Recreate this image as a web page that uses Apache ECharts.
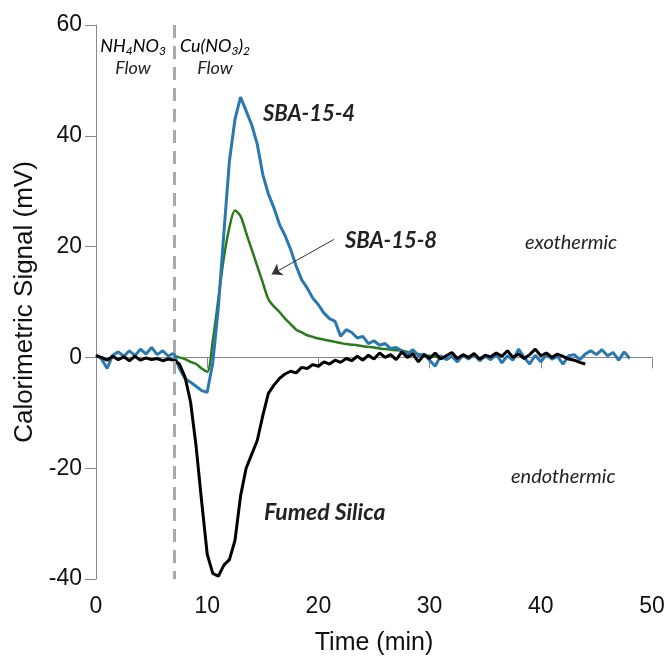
<!DOCTYPE html>
<html>
<head>
<meta charset="utf-8">
<script src="https://cdn.jsdelivr.net/npm/echarts@6/dist/echarts.min.js"></script>
<style>
  html, body { margin: 0; padding: 0; background: #fff; }
  #chart { width: 670px; height: 664px; }
</style>
</head>
<body>
<div id="chart"></div>
<script>
// time axis (min), sampled every half minute
const minutes = [
  0, 0.5, 1, 1.5, 2, 2.5, 3, 3.5, 4, 4.5, 5, 5.5, 6, 6.5, 7, 7.5, 8, 8.5, 9, 9.5,
  10, 10.5, 11, 11.5, 12, 12.5, 13, 13.5, 14, 14.5, 15, 15.5, 16, 16.5, 17, 17.5, 18, 18.5, 19, 19.5,
  20, 20.5, 21, 21.5, 22, 22.5, 23, 23.5, 24, 24.5, 25, 25.5, 26, 26.5, 27, 27.5, 28, 28.5, 29, 29.5,
  30, 30.5, 31, 31.5, 32, 32.5, 33, 33.5, 34, 34.5, 35, 35.5, 36, 36.5, 37, 37.5, 38, 38.5, 39, 39.5,
  40, 40.5, 41, 41.5, 42, 42.5, 43, 43.5, 44, 44.5, 45, 45.5, 46, 46.5, 47, 47.5, 48
];

// SBA-15-4 (mV)
const sba4 = [
  0.5, -0.3, -2, 0.4, 1.0, 0.2, 1.2, 0.3, 1.5, 0.6, 1.8, 0.5, 1.2, 0.2, 0.8, -2, -3.8, -4.5, -5.2, -6,
  -6.3, -1, 9, 22.5, 35.5, 43, 47, 44.5, 42, 38.5, 33, 29.5, 27, 24, 22, 19.5, 16.5, 14, 12.5, 10.7,
  9.5, 8, 7, 6.5, 3.8, 5, 4.5, 3.5, 3.8, 2.5, 3, 2.2, 2.5, 1.6, 1.8, 1.2, 0.6, 1.4, 0.3, 0.6,
  -0.5, -1.6, 0.3, -0.4, 0.2, -0.8, 0.4, -0.3, 0.5, -0.6, 0.2, -0.4, 0.6, -1, 0.3, -0.5, 1.5, 0, -1.2, 0.4,
  -0.8, 0.5, -0.3, 0.2, -1.2, 0.3, 0.5, -0.4, 0.6, 1.2, 0.5, 1.4, 0.3, 0.9, -0.5, 1, -0.2
];

// SBA-15-8 (mV), no trace before the switch at 7 min
const sba8 = [
  null, null, null, null, null, null, null, null, null, null, null, null, null, null,
  0.3, 0, -0.3, -0.8, -1.2, -2, -2.6, 3, 10.5, 18, 23.5, 26.5, 25.5, 22.5, 19.5, 16.5,
  13.5, 10.5, 9.2, 8.2, 7, 6, 5, 4.5, 4, 3.7, 3.4, 3.2, 3, 2.8, 2.6, 2.4, 2.3, 2.2, 2, 1.9,
  1.8, 1.6, 1.5, 1.4, 1.3, 1.2, 1, 0.8, 0.6, 0.4, 0.3, 0.1, 0
];

// Fumed Silica (mV)
const fumed = [
  0.3, 0, -0.5, 0.2, -0.4, 0.1, -0.6, 0.2, -0.5, -0.1, -0.4, -0.2, -0.6, -0.3, -0.5, -1.2, -3.5, -8, -16, -26,
  -35.5, -39, -39.5, -37.5, -36.5, -33, -25, -20, -17.5, -15, -10.5, -6.5, -5, -3.8, -3, -2.5, -2.8, -1.8, -2, -1.3,
  -1.6, -0.8, -1.2, -0.5, -0.9, -0.2, -0.6, 0.2, -0.5, 0.4, -0.3, 0.8, 0, 0.5, -0.4, 1, 0, 0.6, -0.8, 0.5,
  -0.2, 0.8, -0.3, 0.3, 0.9, -0.2, 0.5, 0, 0.7, -0.3, 0.4, 0.1, 0.8, 0.2, 1.2, 0, 0.6, -0.2, 0.5, 1.5,
  0.3, 0.8, 0, 0.6, 0.2, -0.3, -0.5, -0.9, -1.2
];

const xTicks = [0, 10, 20, 30, 40, 50];
const yTicks = [-40, -20, 0, 20, 40, 60];
const switchTime = 7;

function pairs(vals) {
  return vals.map((v, i) => [minutes[i], v]);
}

const chart = echarts.init(document.getElementById('chart'));

const axisColor = '#888';
const labelFont = 'Liberation Sans, Arial, sans-serif';
const noteFont = 'Lato, Open Sans, sans-serif';

const note = (x, y, text, size, bold, align) => ({
  type: 'text', x: x, y: y,
  style: {
    text: text, fontFamily: noteFont, fontStyle: 'italic',
    fontWeight: bold ? 'bold' : 'normal', fontSize: size, fill: '#222',
    align: align || 'left', verticalAlign: 'middle'
  }
});

const subRich = {
  a: { fontFamily: noteFont, fontStyle: 'italic', fontSize: 18, color: '#333' },
  s: { fontFamily: noteFont, fontStyle: 'italic', fontSize: 12, color: '#333', padding: [10, 0, 0, 0] }
};

const option = {
  animation: false,
  backgroundColor: '#fff',
  grid: { left: 96, right: 18, top: 25, bottom: 85, containLabel: false, outerBoundsMode: 'none' },
  xAxis: {
    type: 'value',
    min: xTicks[0],
    max: xTicks[xTicks.length - 1],
    interval: 10,
    name: 'Time (min)',
    nameLocation: 'middle',
    nameGap: 52,
    nameTextStyle: { fontFamily: labelFont, fontSize: 25, color: '#111' },
    axisLine: { lineStyle: { color: axisColor, width: 1 } },
    axisTick: { show: true, length: 11, lineStyle: { color: axisColor } },
    axisLabel: { fontFamily: labelFont, fontSize: 23, color: '#111', margin: 16 },
    splitLine: { show: false }
  },
  yAxis: {
    type: 'value',
    min: yTicks[0],
    max: yTicks[yTicks.length - 1],
    interval: 20,
    name: 'Calorimetric Signal (mV)',
    nameLocation: 'middle',
    nameGap: 52,
    nameTextStyle: { fontFamily: labelFont, fontSize: 26, color: '#111' },
    axisLine: { show: true, lineStyle: { color: axisColor, width: 1 } },
    axisTick: { show: true, length: 11, lineStyle: { color: axisColor } },
    axisLabel: { fontFamily: labelFont, fontSize: 23, color: '#111', margin: 14 },
    splitLine: { show: false }
  },
  series: [
    {
      name: 'SBA-15-8',
      type: 'line',
      data: pairs(sba8),
      showSymbol: false,
      smooth: 0.3,
      connectNulls: false,
      lineStyle: { color: '#2a7a1c', width: 2.5 },
      markLine: {
        silent: true,
        symbol: 'none',
        label: { show: false },
        data: [
          [
            { xAxis: switchTime, yAxis: 60 },
            { xAxis: switchTime, yAxis: -40 }
          ],
          [
            { coord: [21.4, 21.3], symbol: 'none', lineStyle: { color: '#333', width: 1, type: 'solid' } },
            { coord: [15.8, 15.0], symbol: 'arrow', symbolSize: 10 }
          ]
        ],
        lineStyle: { color: '#aaa', width: 3, type: [13, 8] }
      }
    },
    {
      name: 'SBA-15-4',
      type: 'line',
      data: pairs(sba4),
      showSymbol: false,
      lineStyle: { color: '#2a78b0', width: 3 }
    },
    {
      name: 'Fumed Silica',
      type: 'line',
      data: pairs(fumed),
      showSymbol: false,
      lineStyle: { color: '#000', width: 3 }
    }
  ],
  graphic: [
    {
      type: 'text', x: 133, y: 46,
      style: { text: '{a|NH}{s|4}{a|NO}{s|3}', align: 'center', verticalAlign: 'middle', rich: subRich }
    },
    note(133, 68, 'Flow', 18, false, 'center'),
    {
      type: 'text', x: 215, y: 46,
      style: { text: '{a|Cu(NO}{s|3}{a|)}{s|2}', align: 'center', verticalAlign: 'middle', rich: subRich }
    },
    note(215, 68, 'Flow', 18, false, 'center'),
    note(263, 114, 'SBA-15-4', 22, true),
    note(345, 241, 'SBA-15-8', 22, true),
    note(264, 513, 'Fumed Silica', 23, true),
    note(525, 243, 'exothermic', 20, false),
    note(511, 477, 'endothermic', 20, false)
  ]
};

chart.setOption(option);
</script>
</body>
</html>
